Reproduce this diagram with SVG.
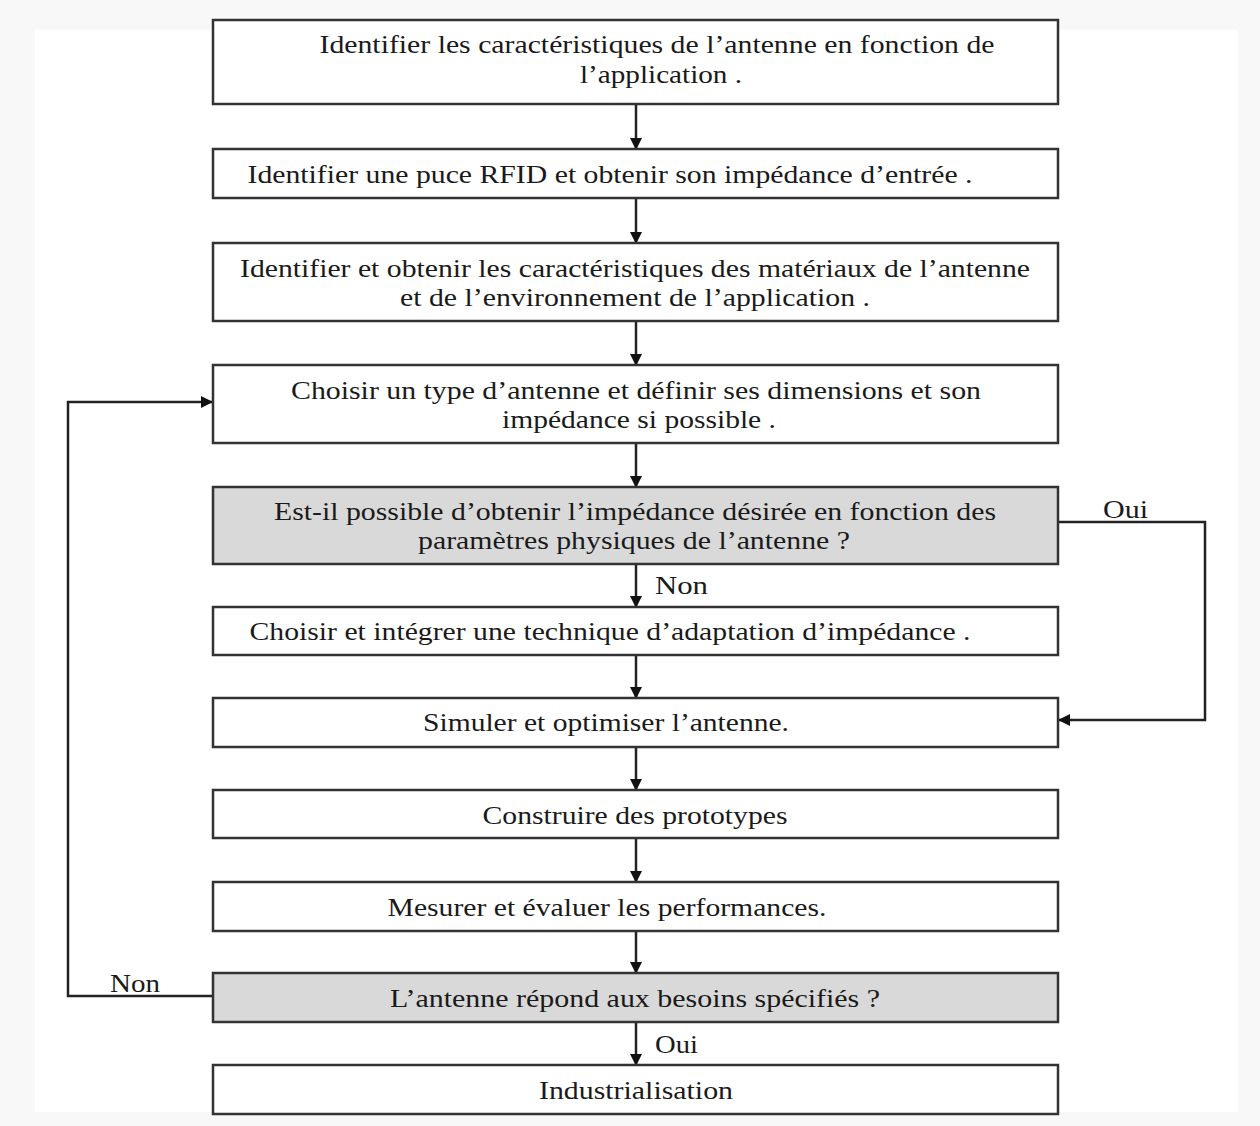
<svg xmlns="http://www.w3.org/2000/svg" width="1260" height="1126" viewBox="0 0 1260 1126">
<style>
.box{fill:#fff;stroke:#333;stroke-width:2.5}
.dec{fill:#d9d9d9;stroke:#333;stroke-width:2.5}
.t{font-family:"Liberation Serif","Times New Roman",serif;font-size:26px;fill:#1a1a1a;text-anchor:middle}
.l{font-family:"Liberation Serif","Times New Roman",serif;font-size:26px;fill:#1a1a1a}
.c{fill:none;stroke:#222;stroke-width:2.5}
</style>
<defs>
<marker id="ah" markerWidth="12" markerHeight="12" refX="11" refY="6" orient="auto" markerUnits="userSpaceOnUse">
<path d="M0,0 L12,6 L0,12 Z" fill="#111"/>
</marker>
</defs>
<rect x="0" y="0" width="1260" height="1126" fill="#f8f8f8"/>
<rect x="35" y="30" width="1203" height="1082" fill="#fff"/>
<g id="connectors">
<line class="c" x1="636" y1="104" x2="636" y2="149" marker-end="url(#ah)"/>
<line class="c" x1="636" y1="198" x2="636" y2="243" marker-end="url(#ah)"/>
<line class="c" x1="636" y1="321" x2="636" y2="365" marker-end="url(#ah)"/>
<line class="c" x1="636" y1="443" x2="636" y2="487" marker-end="url(#ah)"/>
<line class="c" x1="636" y1="564" x2="636" y2="607" marker-end="url(#ah)"/>
<line class="c" x1="636" y1="655" x2="636" y2="698" marker-end="url(#ah)"/>
<line class="c" x1="636" y1="747" x2="636" y2="790" marker-end="url(#ah)"/>
<line class="c" x1="636" y1="838" x2="636" y2="882" marker-end="url(#ah)"/>
<line class="c" x1="636" y1="931" x2="636" y2="973" marker-end="url(#ah)"/>
<line class="c" x1="636" y1="1022" x2="636" y2="1065" marker-end="url(#ah)"/>
<polyline class="c" points="1058,522 1205,522 1205,720 1059,720" marker-end="url(#ah)"/>
<polyline class="c" points="213,996 68,996 68,402 212,402" marker-end="url(#ah)"/>
<text class="l" x="1103" y="518" textLength="45" lengthAdjust="spacingAndGlyphs">Oui</text>
<text class="l" x="655" y="594" textLength="53" lengthAdjust="spacingAndGlyphs">Non</text>
<text class="l" x="110" y="992" textLength="50" lengthAdjust="spacingAndGlyphs">Non</text>
<text class="l" x="655" y="1053" textLength="43" lengthAdjust="spacingAndGlyphs">Oui</text>
</g>
<g id="n1"><rect class="box" x="213" y="20" width="845" height="84"/>
<text class="t" x="657" y="53" textLength="675" lengthAdjust="spacingAndGlyphs">Identifier les caractéristiques de l’antenne en fonction de</text>
<text class="t" x="661" y="83" textLength="162" lengthAdjust="spacingAndGlyphs">l’application .</text></g>
<g id="n2"><rect class="box" x="213" y="149" width="845" height="49"/>
<text class="t" x="610" y="183" textLength="725" lengthAdjust="spacingAndGlyphs">Identifier une puce RFID et obtenir son impédance d’entrée .</text></g>
<g id="n3"><rect class="box" x="213" y="243" width="845" height="78"/>
<text class="t" x="635" y="277" textLength="790" lengthAdjust="spacingAndGlyphs">Identifier et obtenir les caractéristiques des matériaux de l’antenne</text>
<text class="t" x="635" y="306" textLength="470" lengthAdjust="spacingAndGlyphs">et de l’environnement de l’application .</text></g>
<g id="n4"><rect class="box" x="213" y="365" width="845" height="78"/>
<text class="t" x="636" y="399" textLength="690" lengthAdjust="spacingAndGlyphs">Choisir un type d’antenne et définir ses dimensions et son</text>
<text class="t" x="639" y="428" textLength="274" lengthAdjust="spacingAndGlyphs">impédance si possible .</text></g>
<g id="n5"><rect class="dec" x="213" y="487" width="845" height="77"/>
<text class="t" x="635" y="520" textLength="722" lengthAdjust="spacingAndGlyphs">Est-il possible d’obtenir l’impédance désirée en fonction des</text>
<text class="t" x="634" y="549" textLength="432" lengthAdjust="spacingAndGlyphs">paramètres physiques de l’antenne ?</text></g>
<g id="n6"><rect class="box" x="213" y="607" width="845" height="48"/>
<text class="t" x="610" y="640" textLength="721" lengthAdjust="spacingAndGlyphs">Choisir et intégrer une technique d’adaptation d’impédance .</text></g>
<g id="n7"><rect class="box" x="213" y="698" width="845" height="49"/>
<text class="t" x="606" y="731" textLength="366" lengthAdjust="spacingAndGlyphs">Simuler et optimiser l’antenne.</text></g>
<g id="n8"><rect class="box" x="213" y="790" width="845" height="48"/>
<text class="t" x="635" y="824" textLength="305" lengthAdjust="spacingAndGlyphs">Construire des prototypes</text></g>
<g id="n9"><rect class="box" x="213" y="882" width="845" height="49"/>
<text class="t" x="607" y="916" textLength="439" lengthAdjust="spacingAndGlyphs">Mesurer et évaluer les performances.</text></g>
<g id="n10"><rect class="dec" x="213" y="973" width="845" height="49"/>
<text class="t" x="635" y="1007" textLength="490" lengthAdjust="spacingAndGlyphs">L’antenne répond aux besoins spécifiés ?</text></g>
<g id="n11"><rect class="box" x="213" y="1065" width="845" height="49"/>
<text class="t" x="636" y="1099" textLength="194" lengthAdjust="spacingAndGlyphs">Industrialisation</text></g>
</svg>
